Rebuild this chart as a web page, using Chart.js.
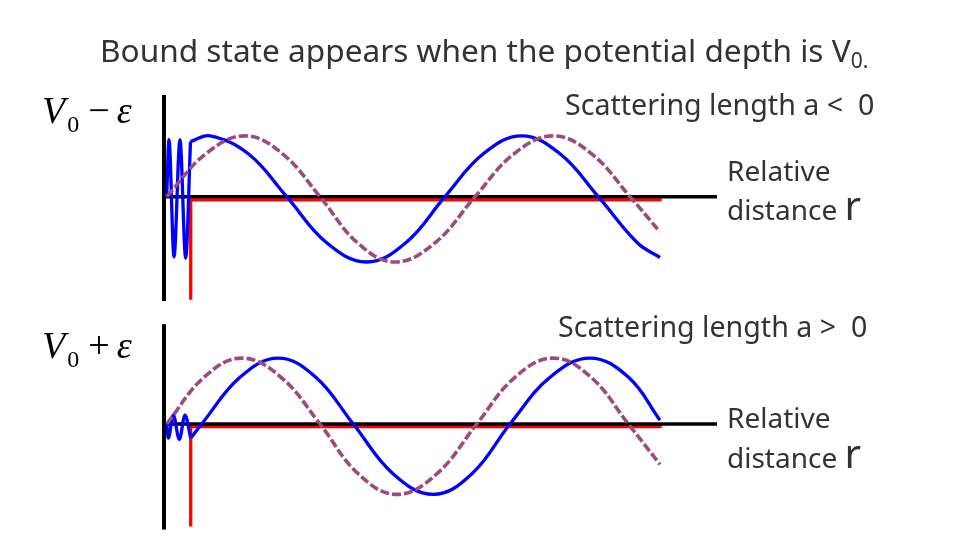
<!DOCTYPE html>
<html>
<head>
<meta charset="utf-8">
<script src="https://cdn.jsdelivr.net/npm/chart.js@4.4.1/dist/chart.umd.min.js"></script>
<style>
  html, body { margin: 0; padding: 0; background: #fff; }
  #page { position: relative; width: 953px; height: 550px; overflow: hidden; }
  .panel { position: absolute; left: 0; width: 953px; }
  .t { position: absolute; white-space: pre; line-height: 1; font-family: "Noto Sans", sans-serif; color: #333; }
  .t .sub { font-size: 21px; position: relative; top: 6px; }
  .t .big { font-size: 40px; line-height: 0; }
  .m { position: absolute; white-space: pre; line-height: 1; font-family: "Liberation Serif", serif; font-size: 38px; color: #000; }
  .m .msub { font-size: 24px; position: relative; top: 9px; margin-left: 2px; }
  .m .op { margin-left: 9px; margin-right: 7px; }
</style>
</head>
<body>
<div id="page">
  <div class="panel" style="top:0;height:312px"><canvas id="topChart" width="953" height="312"></canvas></div>
  <div class="panel" style="top:312px;height:238px"><canvas id="botChart" width="953" height="238"></canvas></div>

  <div class="t" style="left:100px;top:34px;font-size:31.6px">Bound state appears when the potential depth is V<span class="sub">0.</span></div>

  <div class="m" style="left:42px;top:91px"><i>V</i><span class="msub">0</span><span class="op">−</span><i>ε</i></div>
  <div class="m" style="left:42px;top:326px"><i>V</i><span class="msub">0</span><span class="op">+</span><i>ε</i></div>

  <div class="t" style="left:565px;top:90px;font-size:28.6px">Scattering length a &lt;  0</div>
  <div class="t" style="left:727px;top:156px;font-size:28px">Relative</div>
  <div class="t" style="left:727px;top:195px;font-size:28px">distance <span class="big">r</span></div>

  <div class="t" style="left:558px;top:312px;font-size:28.6px">Scattering length a &gt;  0</div>
  <div class="t" style="left:727px;top:403px;font-size:28px">Relative</div>
  <div class="t" style="left:727px;top:443px;font-size:28px">distance <span class="big">r</span></div>
</div>

<script>
// r = relative distance, psi = wave function (arbitrary units)

// upper panel (a < 0)
const topBlueR = [0.49, 0.90, 1.81, 2.89, 3.92, 4.79, 8.32, 15.24, 22.19, 29.42, 36.65, 43.73, 50.81, 57.74, 64.68, 71.61, 78.54, 85.59, 89.69];
const topBlueY = [0, 0.89, -0.94, 0.89, -0.96, 0.86, 0.95, 0.67, 0, -0.72, -1.02, -0.72, 0, 0.67, 0.95, 0.67, 0, -0.72, -0.95];
const topFreeR = [0.49, 7.56, 14.65, 21.43, 28.21, 34.99, 41.77, 49.01, 56.24, 63.29, 70.40, 77.33, 84.27, 89.69];
const topFreeY = [0, 0.67, 0.95, 0.67, 0, -0.72, -1.02, -0.72, 0, 0.67, 0.95, 0.67, 0, -0.55];
const topWellR = [4.83, 4.83, 90.0];
const topWellY = [-1.61, -0.05, -0.05];
const topAxisY = [-1.63, 1.59];

// lower panel (a > 0)
const botBlueR = [0.49, 0.78, 1.68, 2.77, 3.80, 4.83, 6.82, 13.74, 20.67, 27.45, 34.23, 41.46, 48.70, 55.64, 62.57, 69.80, 77.03, 84.00, 89.69];
const botBlueY = [0, -0.22, 0.14, -0.24, 0.14, -0.22, 0, 0.73, 1.03, 0.73, 0, -0.78, -1.10, -0.78, 0, 0.73, 1.03, 0.73, 0.06];
const botFreeR = [0.49, 7.23, 14.05, 21.16, 28.21, 35.14, 42.08, 49.31, 56.55, 63.47, 70.40, 77.22, 83.96, 89.69];
const botFreeY = [0, 0.73, 1.03, 0.73, 0, -0.78, -1.10, -0.78, 0, 0.73, 1.03, 0.73, 0, -0.63];
const botWellR = [4.83, 4.83, 90.0];
const botWellY = [-1.60, -0.04, -0.04];
const botAxisY = [-1.65, 1.56];

const axisR = [0, 100];
const wellEdgeIdx = 5; // index in the blue arrays where the curve leaves the well

// layout: page pixels per data unit, and where r=0 sits on the page
const PX_R = 5.53;
const PX_PSI = 64;
const ORIGIN_X = 164;

function pts(xs, ys) {
  return xs.map((x, i) => ({ x: x, y: ys[i] }));
}

function makePanel(id, canvasH, zeroY, blueR, blueY, freeR, freeY, wellR, wellY, vAxis) {
  const blue = pts(blueR, blueY);
  const ctx = document.getElementById(id).getContext('2d');
  return new Chart(ctx, {
    type: 'line',
    data: {
      datasets: [
        { // free wave (dashed)
          data: pts(freeR, freeY), borderColor: '#9e4a7d', borderWidth: 3.6,
          borderDash: [9, 3], tension: 0.4, pointRadius: 0, order: 0
        },
        { // wave function inside the well (fast oscillation)
          data: blue.slice(0, wellEdgeIdx + 1), borderColor: '#0000ff', borderWidth: 3.3,
          cubicInterpolationMode: 'monotone', pointRadius: 0, order: 1
        },
        { // wave function outside the well
          data: blue.slice(wellEdgeIdx), borderColor: '#0000ff', borderWidth: 3.3,
          tension: 0.4, pointRadius: 0, order: 1
        },
        { // r axis
          data: pts(axisR, [0, 0]), borderColor: '#000', borderWidth: 3.5,
          tension: 0, pointRadius: 0, order: 2
        },
        { // vertical axis
          data: pts([0, 0], vAxis), borderColor: '#000', borderWidth: 4,
          tension: 0, pointRadius: 0, order: 3
        },
        { // square well potential
          data: pts(wellR, wellY), borderColor: '#ff0000', borderWidth: 3.3,
          tension: 0, pointRadius: 0, order: 4, borderJoinStyle: 'miter'
        }
      ]
    },
    options: {
      responsive: false,
      animation: false,
      events: [],
      layout: { padding: 0 },
      plugins: { legend: { display: false }, tooltip: { enabled: false } },
      scales: {
        x: { type: 'linear', display: false, min: -ORIGIN_X / PX_R, max: (953 - ORIGIN_X) / PX_R },
        y: { type: 'linear', display: false, min: -(canvasH - zeroY) / PX_PSI, max: zeroY / PX_PSI }
      }
    }
  });
}

makePanel('topChart', 312, 196.7, topBlueR, topBlueY, topFreeR, topFreeY, topWellR, topWellY, topAxisY);
makePanel('botChart', 238, 424 - 312, botBlueR, botBlueY, botFreeR, botFreeY, botWellR, botWellY, botAxisY);
</script>
</body>
</html>
